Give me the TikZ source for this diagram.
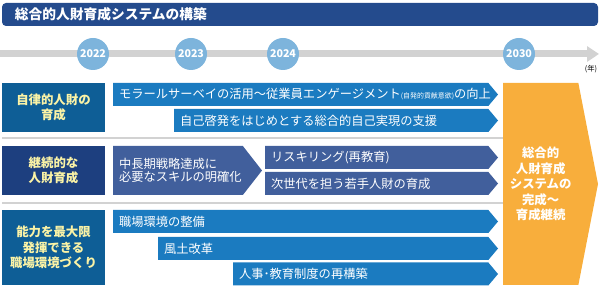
\documentclass[tikz,border=0pt]{standalone}
\usepackage{fontspec}
\setmainfont{Noto Sans CJK JP}
\usetikzlibrary{shapes.symbols,arrows.meta,positioning}

\definecolor{titleblue}{HTML}{244B8D}
\definecolor{yearblue}{HTML}{7DB4DC}
\definecolor{lineGray}{HTML}{D2D2D2}
\definecolor{rowblue}{HTML}{0E5E96}
\definecolor{rownavy}{HTML}{1D3F7F}
\definecolor{barblue}{HTML}{1B7BC0}
\definecolor{barslate}{HTML}{415F9C}
\definecolor{goalorange}{HTML}{F8AE3C}
\definecolor{labelyellow}{HTML}{FBF3A6}

\begin{document}
\begin{tikzpicture}[
    x=0.75pt, y=-0.75pt,
    inner sep=0pt, outer sep=0pt,
    theme/.style={fill=rowblue, text=labelyellow, font=\bfseries\fontsize{9.3}{11.6}\selectfont, align=center, minimum width=77.25pt, anchor=north west},
    bar/.style={signal, signal to=east, signal pointer angle=100, fill=barblue, minimum height=17.25pt, anchor=west, label distance=0pt},
    bartext/.style={anchor=west, text=white, inner xsep=4.5pt, font=\fontsize{9.2}{9.75}\selectfont, align=left},
    year/.style={circle, fill=yearblue, minimum size=24pt, text=white, font=\bfseries\fontsize{8}{8}\selectfont},
    sep/.style={draw=lineGray, line width=1.5pt}
]
\useasboundingbox (0,0) rectangle (604,302);

% title
\node[fill=titleblue, rounded corners=3pt, anchor=north west, minimum height=17.25pt,
      inner xsep=9.75pt, text width=427.5pt, align=left, text=white,
      font=\bfseries\fontsize{10.3}{12}\selectfont] (title) at (2,3) {総合的人財育成システムの構築};

% timeline
\coordinate (tlstart) at (0,54);
\coordinate (tlend) at (599,54);
\draw[lineGray, line width=5.25pt, -{Triangle[length=9pt,width=11.25pt]}] (tlstart) -- (tlend);
\node[year] (y2022) at (93,54) {2022};
\node[year] (y2023) at (191,54) {2023};
\node[year] (y2024) at (283,54) {2024};
\node[year] (y2030) at (519,54) {2030};
\node[font=\fontsize{5.5}{6}\selectfont] (unit) at (591,69) {(年)};

% goal
\node[signal, signal to=east, signal pointer angle=158, fill=goalorange, minimum width=71.25pt,
      minimum height=151.5pt, anchor=west, text=white, align=center,
      font=\bfseries\fontsize{9.3}{11.6}\selectfont] (goal) at (503,184)
      {総合的\\人財育成\\システムの\\完成～\\育成継続};

% row 1
\node[theme, minimum height=36.75pt] (self) at (2,83) {自律的人財の\\育成};
\node[bar, minimum width=288.75pt, label={[bartext, name=t1a]west:モラールサーベイの活用～従業員エンゲージメント{\fontsize{5.2}{6}\selectfont(自発的貢献意欲)}の向上}] (b1a) at (113,94.5) {};
\node[bar, minimum width=243pt, label={[bartext, name=t1b]west:自己啓発をはじめとする総合的自己実現の支援}] (b1b) at (174,120.5) {};
\draw[sep] (2,138) -- (503,138);

% row 2
\node[theme, fill=rownavy, minimum height=36.75pt] (cont) at (2,146) {継続的な\\人財育成};
\node[bar, fill=barslate, signal pointer angle=104, minimum width=111.75pt, minimum height=36.75pt,
      label={[bartext, name=t2a]west:中長期戦略達成に\\必要なスキルの明確化}] (b2a) at (113,170.5) {};
\node[bar, fill=barslate, minimum width=174.75pt, label={[bartext, name=t2b]west:リスキリング(再教育)}] (b2b) at (265,157.5) {};
\node[bar, fill=barslate, minimum width=174.75pt, label={[bartext, name=t2c]west:次世代を担う若手人財の育成}] (b2c) at (265,183.5) {};
\draw[sep] (2,203) -- (503,203);

% row 3
\node[theme, minimum height=56.25pt] (work) at (2,210) {能力を最大限\\発揮できる\\職場環境づくり};
\node[bar, minimum width=288.75pt, label={[bartext, name=t3a]west:職場環境の整備}] (b3a) at (113,221.5) {};
\node[bar, minimum width=255pt, label={[bartext, name=t3b]west:風土改革}] (b3b) at (158,248.5) {};
\node[bar, minimum width=198.75pt, label={[bartext, name=t3c]west:人事･教育制度の再構築}] (b3c) at (233,274) {};

\end{tikzpicture}
\end{document}
